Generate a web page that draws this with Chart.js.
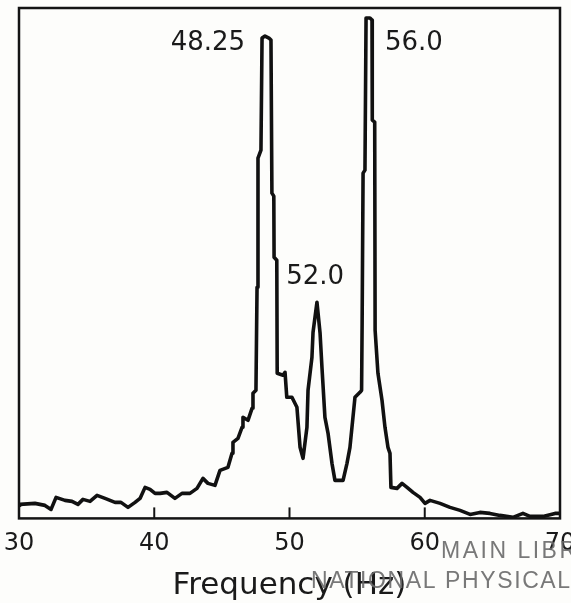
<!DOCTYPE html>
<html>
<head>
<meta charset="utf-8">
<script src="https://cdn.jsdelivr.net/npm/chart.js@4/dist/chart.umd.min.js"></script>
<style>
  html, body { margin: 0; padding: 0; background: #fdfdfb; }
  #wrap { width: 571px; height: 603px; }
</style>
</head>
<body>
<div id="wrap"><canvas id="spectrum"></canvas></div>
<script>
// frequency (Hz) and relative amplitude
const freqs = [
  30.0, 30.07, 31.18, 31.92, 32.37, 32.74, 33.40, 33.92, 34.36, 34.73, 35.25, 35.77, 36.36, 37.10, 37.54,
  38.06, 38.58, 38.95, 39.32, 39.69, 40.06, 40.43, 40.94, 41.53, 42.05, 42.64, 43.16, 43.60, 43.97,
  44.49, 44.86, 45.45, 45.75, 45.82, 46.19, 46.49, 46.56, 46.93, 47.23, 47.30, 47.52, 47.60, 47.67,
  47.89, 47.97, 48.19, 48.48, 48.63, 48.70, 48.84, 48.86, 49.06, 49.09, 49.52, 49.67, 49.80, 50.18,
  50.55, 50.78, 51.00, 51.29, 51.37, 51.66, 51.74, 52.03, 52.26, 52.40, 52.62, 52.85, 53.14, 53.36,
  53.96, 54.25, 54.47, 54.84, 55.21, 55.33, 55.37, 55.44, 55.58, 55.66, 55.95, 56.10, 56.12, 56.30,
  56.33, 56.54, 56.84, 57.06, 57.28, 57.43, 57.50, 57.95, 58.32, 58.69, 59.13, 59.65, 60.02, 60.39,
  61.13, 61.87, 62.61, 63.35, 64.08, 64.82, 65.56, 66.52, 67.26, 67.78, 68.74, 69.63, 70.0
];
const amps = [
  13, 14, 15, 13, 9, 21, 18, 17, 14, 19, 17, 23, 20, 16, 16,
  11, 16, 20, 31, 29, 25, 25, 26, 20, 25, 25, 30, 40, 35,
  33, 48, 51, 65, 76, 80, 91, 101, 98, 110, 125, 128, 231, 360,
  368, 480, 482, 480, 478, 325, 322, 261, 258, 145, 143, 146, 121, 121,
  111, 71, 60, 91, 128, 161, 186, 216, 185, 151, 101, 85, 55, 38,
  38, 55, 71, 121, 126, 128, 195, 345, 348, 500, 500, 498, 398, 396,
  188, 145, 118, 91, 71, 65, 31, 30, 35, 31, 26, 21, 15, 18,
  15, 11, 8, 4, 6, 5, 3, 1, 5, 2, 2, 5, 5
];
const xTicks = [30, 40, 50, 60, 70];

// peak annotations: text, frequency and amplitude where the text is centred
const peakTexts = ['48.25', '52.0', '56.0'];
const peakTextX = [43.97, 51.9, 59.2];
const peakTextY = [475, 241, 475];

const points = freqs.map((f, i) => ({ x: f, y: amps[i] }));

const framePlugin = {
  id: 'frame',
  afterDatasetsDraw(chart) {
    const { ctx, chartArea: a, scales } = chart;
    ctx.save();
    ctx.strokeStyle = '#141414';
    ctx.lineWidth = 2.5;
    ctx.strokeRect(a.left, a.top, a.right - a.left, a.bottom - a.top);
    // short inward ticks on the frequency axis
    ctx.lineWidth = 2;
    xTicks.slice(1, -1).forEach(v => {
      const px = scales.x.getPixelForValue(v);
      ctx.beginPath();
      ctx.moveTo(px, a.bottom);
      ctx.lineTo(px, a.bottom - 11);
      ctx.stroke();
    });
    // peak labels
    ctx.fillStyle = '#1a1a1a';
    ctx.font = '26px "DejaVu Sans"';
    ctx.textAlign = 'center';
    ctx.textBaseline = 'middle';
    peakTexts.forEach((t, i) => {
      ctx.fillText(t, scales.x.getPixelForValue(peakTextX[i]), scales.y.getPixelForValue(peakTextY[i]));
    });
    ctx.restore();
  },
  afterDraw(chart) {
    // library stamp over the lower right corner
    const ctx = chart.ctx;
    ctx.save();
    ctx.fillStyle = 'rgba(105,105,105,0.9)';
    ctx.font = '23px "Liberation Sans"';
    ctx.textAlign = 'left';
    ctx.textBaseline = 'middle';
    ctx.letterSpacing = '2.5px';
    ctx.fillText('MAIN LIBR', 441, 552);
    ctx.letterSpacing = '1.6px';
    ctx.fillText('NATIONAL PHYSICAL', 311, 582);
    ctx.restore();
  }
};

new Chart(document.getElementById('spectrum'), {
  type: 'line',
  data: {
    datasets: [{
      data: points,
      borderColor: '#111',
      borderWidth: 3.6,
      pointRadius: 0,
      tension: 0,
      fill: false,
      borderJoinStyle: 'round',
      borderCapStyle: 'round'
    }]
  },
  options: {
    responsive: true,
    maintainAspectRatio: false,
    animation: false,
    layout: { padding: { left: 19, right: 11, top: 8, bottom: 0 } },
    plugins: { legend: { display: false }, tooltip: { enabled: false } },
    scales: {
      x: {
        type: 'linear',
        min: 30,
        max: 70,
        afterBuildTicks(scale) {
          scale.ticks = xTicks.map(v => ({ value: v }));
        },
        afterFit(scale) {
          scale.paddingLeft = 0;
          scale.paddingRight = 0;
        },
        grid: { display: false, drawTicks: false },
        border: { display: false },
        ticks: {
          color: '#1a1a1a',
          padding: 13,
          maxRotation: 0,
          autoSkip: false,
          font: { family: 'DejaVu Sans', size: 24, lineHeight: 1.0 }
        },
        title: {
          display: true,
          text: 'Frequency (Hz)',
          color: '#1a1a1a',
          font: { family: 'DejaVu Sans', size: 31, lineHeight: 1.1 },
          padding: { top: 0.5, bottom: 0 }
        }
      },
      y: {
        display: false,
        min: 0,
        max: 510
      }
    }
  },
  plugins: [framePlugin]
});
</script>
</body>
</html>
